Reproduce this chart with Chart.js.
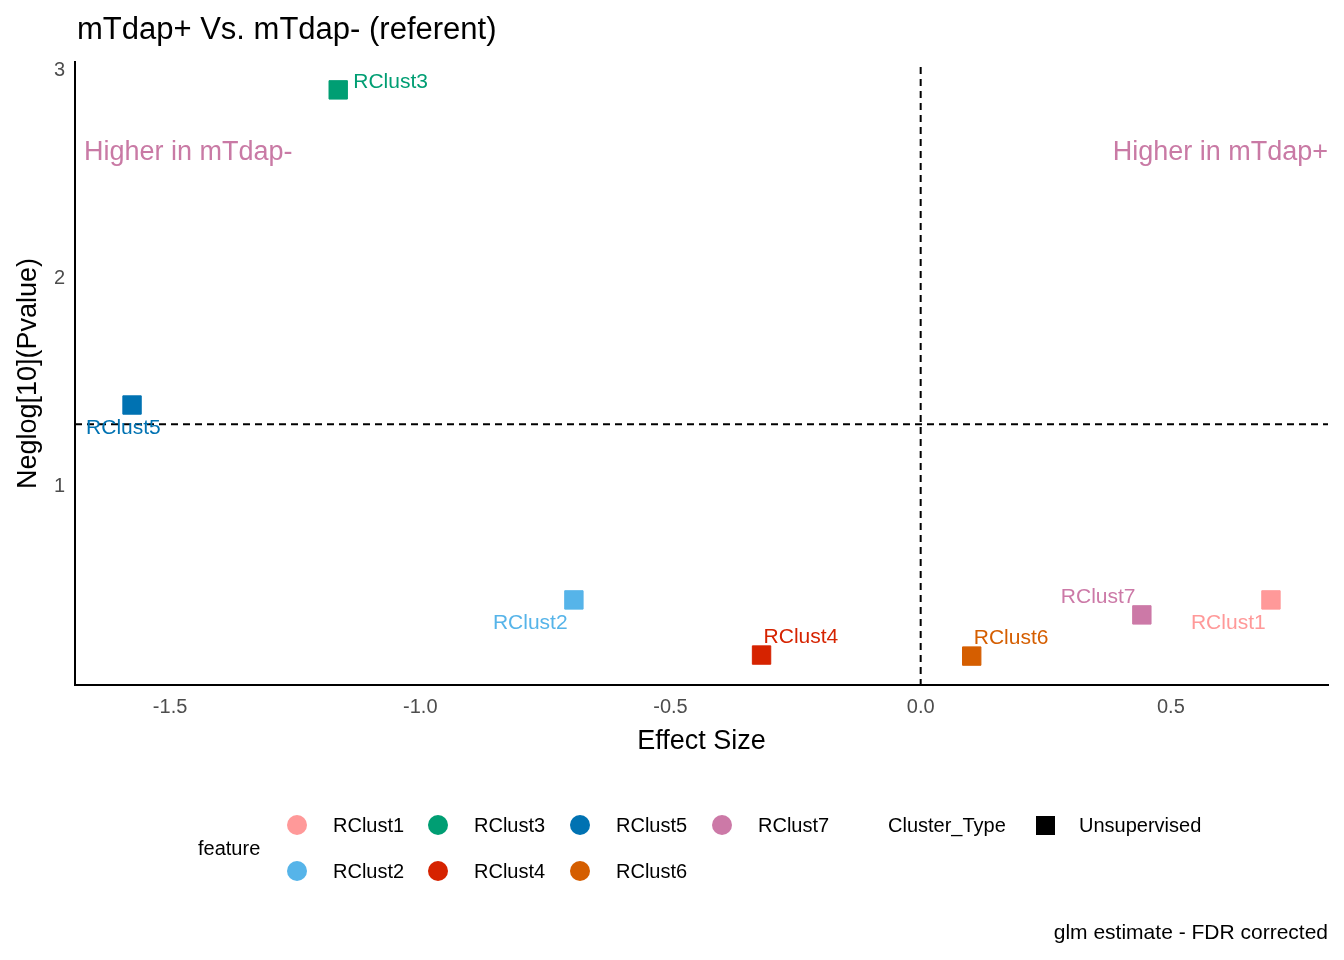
<!DOCTYPE html>
<html lang="en">
<head>
<meta charset="UTF-8">
<title>mTdap+ Vs. mTdap- volcano</title>
<script src="https://cdn.jsdelivr.net/npm/chart.js"></script>
<style>
  body { margin: 0; background: #fff; }
  canvas { display: block; }
</style>
</head>
<body>
<canvas id="volcano" width="1344" height="960"></canvas>
<script>
    // data
    const features = ['RClust1', 'RClust2', 'RClust3', 'RClust4', 'RClust5', 'RClust6', 'RClust7'];
    const effectSize = [0.70, -0.693, -1.164, -0.318, -1.576, 0.102, 0.442];
    const negLogP = [0.457, 0.457, 2.909, 0.192, 1.394, 0.187, 0.385];
    const colors = ['#FF9999', '#56B4E9', '#009E73', '#D62300', '#0072B2', '#D55E00', '#CC79A7'];
    const xTicks = [-1.5, -1.0, -0.5, 0.0, 0.5];
    const yTicks = [1, 2, 3];
    const sigLine = 1.301;

    // label offsets (px) from each point, left-aligned text
    const labelOffsets = {
        RClust1: [-80, 23], RClust2: [-81, 23], RClust3: [15, -8], RClust4: [2, -18],
        RClust5: [-46, 23], RClust6: [2, -18], RClust7: [-81, -18]
    };

    const FONT = '"Liberation Sans", Arial, sans-serif';

    const extras = {
        id: 'extras',
        afterDatasetsDraw(chart) {
            const { ctx, chartArea: a, scales: { x, y } } = chart;
            ctx.save();
            // dashed reference lines
            ctx.strokeStyle = '#000';
            ctx.lineWidth = 2;
            ctx.setLineDash([7, 5]);
            ctx.beginPath();
            ctx.moveTo(x.getPixelForValue(0), a.top + 5);
            ctx.lineTo(x.getPixelForValue(0), a.bottom);
            ctx.moveTo(a.left, y.getPixelForValue(sigLine));
            ctx.lineTo(a.right, y.getPixelForValue(sigLine));
            ctx.stroke();
            ctx.setLineDash([]);

            // point labels
            ctx.font = '21px ' + FONT;
            ctx.textBaseline = 'middle';
            ctx.textAlign = 'left';
            features.forEach((f, i) => {
                const px = x.getPixelForValue(effectSize[i]);
                const py = y.getPixelForValue(negLogP[i]);
                const o = labelOffsets[f];
                ctx.fillStyle = colors[i];
                ctx.fillText(f, px + o[0], py + o[1]);
            });

            // side annotations
            ctx.font = '27px ' + FONT;
            ctx.fillStyle = '#C97AA5';
            ctx.fillText('Higher in mTdap-', a.left + 9, 153);
            ctx.textAlign = 'right';
            ctx.fillText('Higher in mTdap+', a.right, 153);

            // title and axis titles
            ctx.fillStyle = '#000';
            ctx.textAlign = 'left';
            ctx.font = '31px ' + FONT;
            ctx.fillText('mTdap+ Vs. mTdap- (referent)', 77, 30);
            ctx.font = '27px ' + FONT;
            ctx.textAlign = 'center';
            ctx.fillText('Effect Size', (a.left + a.right) / 2, 742);
            ctx.save();
            ctx.translate(29, (a.top + a.bottom) / 2);
            ctx.rotate(-Math.PI / 2);
            ctx.fillText('Neglog[10](Pvalue)', 0, 0);
            ctx.restore();

            // legend
            ctx.font = '20px ' + FONT;
            ctx.textAlign = 'left';
            ctx.fillText('feature', 198, 849);
            const cols = [297, 438, 580, 722];
            features.forEach((f, i) => {
                const cx = cols[Math.floor(i / 2)];
                const cy = i % 2 === 0 ? 825 : 871;
                ctx.fillStyle = colors[i];
                ctx.beginPath();
                ctx.arc(cx, cy, 10, 0, Math.PI * 2);
                ctx.fill();
                ctx.fillStyle = '#000';
                ctx.fillText(f, cx + 36, cy + 1);
            });
            ctx.fillText('Cluster_Type', 888, 826);
            ctx.fillRect(1036, 816, 19, 19);
            ctx.fillText('Unsupervised', 1079, 826);

            // caption
            ctx.textAlign = 'right';
            ctx.font = '21px ' + FONT;
            ctx.fillText('glm estimate - FDR corrected', 1328, 933);
            ctx.restore();
        }
    };

    new Chart(document.getElementById('volcano'), {
        type: 'scatter',
        data: {
            datasets: [{
                data: effectSize.map((v, i) => ({ x: v, y: negLogP[i] })),
                backgroundColor: colors,
                borderColor: colors,
                pointStyle: 'rect',
                pointRadius: 13,
                pointHoverRadius: 13
            }]
        },
        options: {
            responsive: false,
            animation: false,
            devicePixelRatio: 1,
            layout: { padding: { left: 0, right: 16, top: 62, bottom: 0 } },
            plugins: { legend: { display: false }, tooltip: { enabled: false } },
            scales: {
                x: {
                    type: 'linear',
                    min: -1.69, max: 0.814,
                    afterFit(s) { s.height = 275; },
                    afterBuildTicks(s) { s.ticks = xTicks.map(v => ({ value: v })); },
                    grid: { display: false, drawTicks: true, tickLength: 6, tickColor: '#333' },
                    border: { color: '#000', width: 2 },
                    ticks: { color: '#4d4d4d', font: { size: 20, family: FONT }, padding: 4,
                             callback: v => v.toFixed(1), maxRotation: 0 }
                },
                y: {
                    type: 'linear',
                    min: 0.048, max: 3.043,
                    afterFit(s) { s.width = 75; },
                    afterBuildTicks(s) { s.ticks = yTicks.map(v => ({ value: v })); },
                    grid: { display: false, drawTicks: true, tickLength: 6, tickColor: '#333' },
                    border: { color: '#000', width: 2 },
                    ticks: { color: '#4d4d4d', font: { size: 20, family: FONT }, padding: 4 }
                }
            }
        },
        plugins: [extras]
    });
</script>
</body>
</html>
